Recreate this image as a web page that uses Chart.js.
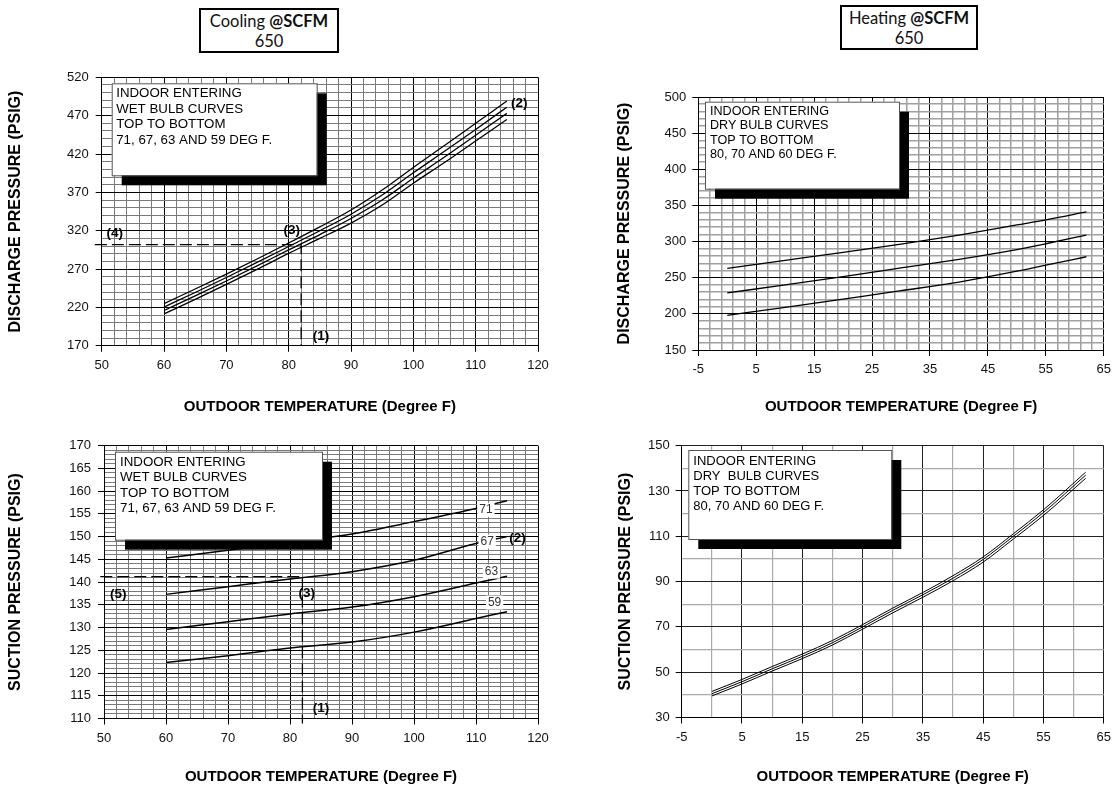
<!DOCTYPE html>
<html>
<head>
<meta charset="utf-8">
<script src="https://cdn.jsdelivr.net/npm/chart.js@4.4.1/dist/chart.umd.min.js"></script>
<style>
  body { margin: 0; background: #fff; width: 1117px; height: 789px; position: relative; overflow: hidden; }
  .panel { position: absolute; }
  .tbox { position: absolute; box-sizing: border-box; border: 2px solid #000; text-align: center;
          font-family: Lato, "Open Sans", sans-serif; font-size: 16.5px; line-height: 20px; color: #111; padding-top: 1px; }
</style>
</head>
<body>
<div class="tbox" style="left:199px;top:8px;width:140px;height:45px">Cooling <b>@SCFM</b><br>650</div>
<div class="tbox" style="left:840px;top:5px;width:138px;height:45px">Heating <b>@SCFM</b><br>650</div>

<div class="panel" style="left:0;top:60px"><canvas id="c1" width="560" height="370"></canvas></div>
<div class="panel" style="left:560px;top:60px"><canvas id="c2" width="557" height="370"></canvas></div>
<div class="panel" style="left:0;top:430px"><canvas id="c3" width="560" height="359"></canvas></div>
<div class="panel" style="left:560px;top:430px"><canvas id="c4" width="557" height="359"></canvas></div>

<script>
// ---- cooling, discharge pressure vs outdoor temp (wet bulb 71/67/63/59)
const coolDisTemp = [60, 65, 70, 75, 80, 85, 90, 95, 100, 105, 110, 115];
const coolDis71 = [225, 244, 263.5, 283.5, 304, 325, 347, 373, 402.5, 431, 460, 489];
const coolDis67 = [220.5, 239.5, 259, 279, 299.5, 320, 341.5, 366.5, 395.5, 423.5, 452, 481];
const coolDis63 = [216, 235, 254.5, 274.5, 295, 315, 336, 360, 388.5, 416, 444.5, 473];
const coolDis59 = [211.5, 230.5, 250, 270, 290.5, 310, 330, 353.5, 382, 409, 437, 465];

// ---- cooling, suction pressure
const coolSucTemp = [60, 70, 80, 90, 100, 110, 115];
const coolSuc71 = [145.3, 147, 148.8, 150.6, 153.3, 156.2, 157.9];
const coolSuc67 = [137.3, 139, 140.7, 142.3, 144.8, 148.5, 150];
const coolSuc63 = [129.6, 131.3, 133, 134.5, 136.8, 139.8, 141.3];
const coolSuc59 = [122.3, 123.8, 125.5, 126.8, 129, 132, 133.5];

// ---- heating, discharge pressure (dry bulb 80/70/60)
const heatDisTemp = [0, 10, 20, 30, 40, 50, 55, 62];
const heatDis80 = [263, 274, 285, 296.5, 309, 323, 330, 341];
const heatDis70 = [229, 240, 251.5, 263.5, 275.5, 289, 297, 309];
const heatDis60 = [198, 209, 220.5, 232, 244, 259, 267.5, 279];

// ---- heating, suction pressure
const heatSucTemp = [0, 5, 10, 15, 20, 25, 30, 35, 40, 45, 50, 55, 62];
const heatSuc80 = [41.5, 46.8, 52.5, 58, 64, 71, 78.3, 85.2, 92.6, 100.9, 111.1, 121.7, 138.3];
const heatSuc70 = [40.5, 45.8, 51.5, 57, 63, 70, 77.3, 84.2, 91.5, 99.8, 110, 120.5, 137];
const heatSuc60 = [39.5, 44.8, 50.5, 56, 62, 69, 76.2, 83.1, 90.4, 98.6, 108.8, 119.2, 135.6];

// dashed example read-off lines
const coolDisRefX = [48.9, 82, 82];
const coolDisRefY = [302, 302, 170];
const coolSucRefX = [49.4, 82, 82];
const coolSucRefY = [141.2, 141.2, 108.9];

// axis tick labels
const coolTicksX = [50, 60, 70, 80, 90, 100, 110, 120];
const heatTicksX = [-5, 5, 15, 25, 35, 45, 55, 65];
const coolDisTicksY = [170, 220, 270, 320, 370, 420, 470, 520];
const coolSucTicksY = [110, 115, 120, 125, 130, 135, 140, 145, 150, 155, 160, 165, 170];
const heatDisTicksY = [150, 200, 250, 300, 350, 400, 450, 500];
const heatSucTicksY = [30, 50, 70, 90, 110, 130, 150];

// callouts
const coolDisMarkText = ['(1)', '(2)', '(3)', '(4)'];
const coolDisMarkX = [85.2, 117, 80.5, 52.1];
const coolDisMarkY = [182.7, 486, 320.9, 316.6];
const coolSucMarkText = ['(1)', '(2)', '(3)', '(5)'];
const coolSucMarkX = [85, 116.7, 82.7, 52.3];
const coolSucMarkY = [112.3, 149.6, 137.6, 137.4];
const coolSucTagText = ['71', '67', '63', '59'];
const coolSucTagX = [111.6, 111.8, 112.5, 113];
const coolSucTagY = [155.9, 148.9, 142.3, 135.5];

const coolLegend = ['INDOOR ENTERING', 'WET BULB CURVES', 'TOP TO BOTTOM', '71, 67, 63 AND 59 DEG F.'];
const heatDisLegend = ['INDOOR ENTERING', 'DRY BULB CURVES', 'TOP TO BOTTOM', '80, 70 AND 60 DEG F.'];
const heatSucLegend = ['INDOOR ENTERING', 'DRY  BULB CURVES', 'TOP TO BOTTOM', '80, 70 AND 60 DEG F.'];

const FONT = '"Liberation Sans", Arial, sans-serif';

function pts(xs, ys) { return xs.map((x, i) => ({ x, y: ys[i] })); }

function gridTicks(min, max, step) {
  const t = [];
  for (let v = min; v <= max + 1e-9; v += step) t.push({ value: Math.round(v * 1000) / 1000 });
  return t;
}

function axis(o) {
  const isMajor = v => o.major.includes(v);
  return {
    type: 'linear', position: o.pos, min: o.min, max: o.max,
    afterBuildTicks: s => { s.ticks = gridTicks(o.min, o.max, o.minor); },
    afterFit: s => { if (o.pos === 'left') s.width = o.size; else s.height = o.size; },
    ticks: {
      autoSkip: false, maxRotation: 0, minRotation: 0, padding: o.tickPad, color: '#111',
      font: { family: FONT, size: 13 },
      callback: v => isMajor(v) ? String(v) : ''
    },
    grid: {
      color: c => isMajor(c.tick.value) ? o.majorColor : o.minorColor,
      lineWidth: c => isMajor(c.tick.value) ? 1 : o.minorWidth,
      tickLength: 6,
      tickColor: c => isMajor(c.tick.value) ? '#000' : 'rgba(0,0,0,0)'
    },
    border: { color: '#000', width: 1 },
    title: {
      display: true, text: o.title, color: '#000',
      font: { family: FONT, size: o.pos === 'left' ? 16 : 15, weight: 'bold' }, padding: o.titlePad
    }
  };
}

// draws legend box with shadow, callout labels and inline curve tags
const overlay = {
  id: 'overlay',
  afterDatasetsDraw(chart, args, opts) {
    const { ctx, chartArea: a, scales: { x, y } } = chart;
    ctx.save();
    const L = opts.legend;
    if (L) {
      const bx = a.left + L.dx, by = a.top + L.dy;
      ctx.fillStyle = '#000';
      ctx.fillRect(bx + L.sh, by + L.sh, L.w, L.h);
      ctx.fillStyle = '#fff';
      ctx.fillRect(bx, by, L.w, L.h);
      ctx.strokeStyle = '#555';
      ctx.lineWidth = 1;
      ctx.strokeRect(bx + 0.5, by + 0.5, L.w, L.h);
      ctx.fillStyle = '#000';
      ctx.font = L.size + 'px ' + FONT;
      ctx.textBaseline = 'middle';
      ctx.textAlign = 'left';
      L.lines.forEach((t, i) => ctx.fillText(t, bx + L.tx, by + L.ty + i * L.gap));
    }
    (opts.tags || []).forEach(t => {
      ctx.font = '12px ' + FONT;
      const w = ctx.measureText(t.text).width;
      const px = x.getPixelForValue(t.x), py = y.getPixelForValue(t.y);
      ctx.fillStyle = '#fff';
      ctx.fillRect(px - w / 2 - 2, py - 7, w + 4, 14);
      ctx.fillStyle = '#333';
      ctx.textAlign = 'center';
      ctx.textBaseline = 'middle';
      ctx.fillText(t.text, px, py);
    });
    (opts.marks || []).forEach(m => {
      ctx.font = 'bold 13.5px ' + FONT;
      ctx.fillStyle = '#000';
      ctx.textAlign = 'center';
      ctx.textBaseline = 'middle';
      ctx.fillText(m.text, x.getPixelForValue(m.x), y.getPixelForValue(m.y));
    });
    ctx.restore();
  }
};

function curve(xs, ys, w) {
  return { data: pts(xs, ys), borderColor: '#000', borderWidth: w, pointRadius: 0,
           cubicInterpolationMode: 'monotone', fill: false };
}
function refLine(xs, ys) {
  return { data: pts(xs, ys), borderColor: '#000', borderWidth: 1.3, pointRadius: 0,
           borderDash: [12, 5], tension: 0, fill: false, clip: false };
}
function zip(texts, xs, ys) { return texts.map((t, i) => ({ text: t, x: xs[i], y: ys[i] })); }

function makeChart(id, datasets, scales, pad, ov) {
  return new Chart(document.getElementById(id), {
    type: 'line',
    data: { datasets },
    options: {
      responsive: false, animation: false,
      layout: { padding: pad },
      plugins: { legend: { display: false }, tooltip: { enabled: false }, overlay: ov },
      scales
    },
    plugins: [overlay]
  });
}

// panel 1: cooling discharge
makeChart('c1',
  [curve(coolDisTemp, coolDis71, 1.3), curve(coolDisTemp, coolDis67, 1.3),
   curve(coolDisTemp, coolDis63, 1.3), curve(coolDisTemp, coolDis59, 1.3),
   refLine(coolDisRefX, coolDisRefY)],
  {
    x: axis({ pos: 'bottom', min: 50, max: 120, minor: 2, major: coolTicksX, size: 84.2, tickPad: 6,
              majorColor: '#000', minorColor: '#7a7a7a', minorWidth: 1,
              title: 'OUTDOOR TEMPERATURE (Degree F)', titlePad: { top: 0, bottom: 14 } }),
    y: axis({ pos: 'left', min: 170, max: 520, minor: 10, major: coolDisTicksY, size: 101.7, tickPad: 7,
              majorColor: '#000', minorColor: '#7a7a7a', minorWidth: 1,
              title: 'DISCHARGE PRESSURE (PSIG)', titlePad: { top: 6.2, bottom: 0 } })
  },
  { top: 17.3, right: 22, left: 0, bottom: 0 },
  { legend: { lines: coolLegend, dx: 10, dy: 6, w: 205, h: 92, sh: 10, tx: 4.5, ty: 10.5, gap: 15.5, size: 13.3 },
    marks: zip(coolDisMarkText, coolDisMarkX, coolDisMarkY) });

// panel 2: heating discharge
makeChart('c2',
  [curve(heatDisTemp, heatDis80, 1.3), curve(heatDisTemp, heatDis70, 1.3), curve(heatDisTemp, heatDis60, 1.3)],
  {
    x: axis({ pos: 'bottom', min: -5, max: 65, minor: 2, major: heatTicksX, size: 80, tickPad: 6,
              majorColor: '#000', minorColor: '#a0a0a0', minorWidth: 1.5,
              title: 'OUTDOOR TEMPERATURE (Degree F)', titlePad: { top: 0, bottom: 14 } }),
    y: axis({ pos: 'left', min: 150, max: 500, minor: 10, major: heatDisTicksY, size: 138.3, tickPad: 6,
              majorColor: '#000', minorColor: '#a0a0a0', minorWidth: 1.5,
              title: 'DISCHARGE PRESSURE (PSIG)', titlePad: { top: 55.4, bottom: 0 } })
  },
  { top: 37, right: 8, left: 0, bottom: 0 },
  { legend: { lines: heatDisLegend, dx: 6.7, dy: 4.7, w: 194, h: 87, sh: 10, tx: 5, ty: 10, gap: 14.2, size: 12.6 } });

// panel 3: cooling suction
makeChart('c3',
  [curve(coolSucTemp, coolSuc71, 1.5), curve(coolSucTemp, coolSuc67, 1.5),
   curve(coolSucTemp, coolSuc63, 1.5), curve(coolSucTemp, coolSuc59, 1.5),
   refLine(coolSucRefX, coolSucRefY)],
  {
    x: axis({ pos: 'bottom', min: 50, max: 120, minor: 2, major: coolTicksX, size: 70.5, tickPad: 6,
              majorColor: '#000', minorColor: '#7a7a7a', minorWidth: 1,
              title: 'OUTDOOR TEMPERATURE (Degree F)', titlePad: { top: 0, bottom: 3 } }),
    y: axis({ pos: 'left', min: 110, max: 170, minor: 1, major: coolSucTicksY, size: 104, tickPad: 7,
              majorColor: '#000', minorColor: '#7a7a7a', minorWidth: 1,
              title: 'SUCTION PRESSURE (PSIG)', titlePad: { top: 6.2, bottom: 0 } })
  },
  { top: 15.7, right: 22, left: 0, bottom: 0 },
  { legend: { lines: coolLegend, dx: 11, dy: 6, w: 207, h: 88, sh: 10, tx: 5, ty: 10.6, gap: 15.3, size: 13.3 },
    marks: zip(coolSucMarkText, coolSucMarkX, coolSucMarkY),
    tags: zip(coolSucTagText, coolSucTagX, coolSucTagY) });

// panel 4: heating suction
makeChart('c4',
  [curve(heatSucTemp, heatSuc80, 1), curve(heatSucTemp, heatSuc70, 1), curve(heatSucTemp, heatSuc60, 1)],
  {
    x: axis({ pos: 'bottom', min: -5, max: 65, minor: 5, major: heatTicksX, size: 71.5, tickPad: 6,
              majorColor: '#222', minorColor: '#aaa', minorWidth: 1.2,
              title: 'OUTDOOR TEMPERATURE (Degree F)', titlePad: { top: 0, bottom: 3 } }),
    y: axis({ pos: 'left', min: 30, max: 150, minor: 10, major: heatSucTicksY, size: 121.7, tickPad: 6,
              majorColor: '#222', minorColor: '#aaa', minorWidth: 1.2,
              title: 'SUCTION PRESSURE (PSIG)', titlePad: { top: 56.4, bottom: 0 } })
  },
  { top: 15.7, right: 11, left: 0, bottom: 0 },
  { legend: { lines: heatSucLegend, dx: 6.6, dy: 4.3, w: 203, h: 89, sh: 10, tx: 5, ty: 11.7, gap: 15, size: 13 } });
</script>
</body>
</html>
